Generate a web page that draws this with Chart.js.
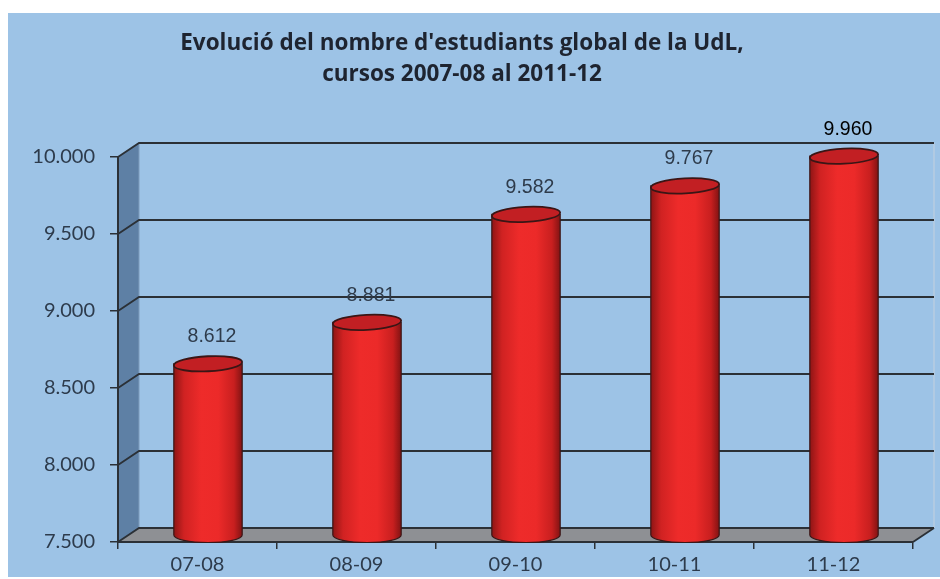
<!DOCTYPE html>
<html>
<head>
<meta charset="utf-8">
<script src="https://cdn.jsdelivr.net/npm/chart.js@4.4.1/dist/chart.umd.min.js"></script>
<style>
  body { margin: 0; background: #fff; }
  #wrap { width: 940px; height: 579px; }
</style>
</head>
<body>
<div id="wrap"><canvas id="studentsChart"></canvas></div>
<script>
// Dades del gràfic
const categories = ['07-08', '08-09', '09-10', '10-11', '11-12'];
const students = [8612, 8881, 9582, 9767, 9960];
const yTicks = [7500, 8000, 8500, 9000, 9500, 10000];
const titleLines = ["Evolució del nombre d'estudiants global de la UdL,", 'cursos 2007-08 al 2011-12'];

// Profunditat de l'efecte 3D
const DX = 21;
const DY = -14;
const LINE = '#2B3036';

// Format amb punt de milers
function fmt(v) {
    return String(v).replace(/\B(?=(\d{3})+(?!\d))/g, '.');
}

// Parets, terra, graella i títol
const threeD = {
    id: 'threeD',
    beforeDraw(chart) {
        const { ctx, chartArea: a, scales: { y } } = chart;
        ctx.save();
        ctx.fillStyle = '#fff';
        ctx.fillRect(0, 0, chart.width, chart.height);
        ctx.fillStyle = '#9DC3E6';
        ctx.fillRect(8, 13, chart.width - 8, chart.height - 15);

        // paret lateral
        ctx.fillStyle = '#5E80A5';
        ctx.beginPath();
        ctx.moveTo(a.left, a.top);
        ctx.lineTo(a.left + DX, a.top + DY);
        ctx.lineTo(a.left + DX, a.bottom + DY);
        ctx.lineTo(a.left, a.bottom);
        ctx.closePath();
        ctx.fill();

        // terra
        ctx.fillStyle = '#8E9094';
        ctx.beginPath();
        ctx.moveTo(a.left, a.bottom);
        ctx.lineTo(a.left + DX, a.bottom + DY);
        ctx.lineTo(a.right + DX, a.bottom + DY);
        ctx.lineTo(a.right, a.bottom);
        ctx.closePath();
        ctx.fill();

        // vores de la paret del fons
        ctx.strokeStyle = '#B9CDE0';
        ctx.lineWidth = 1.5;
        ctx.beginPath();
        ctx.moveTo(a.right + DX, a.top + DY);
        ctx.lineTo(a.right + DX, a.bottom + DY);
        ctx.stroke();
        ctx.strokeStyle = '#7F9CBB';
        ctx.lineWidth = 1;
        ctx.beginPath();
        ctx.moveTo(a.left + DX, a.top + DY);
        ctx.lineTo(a.left + DX, a.bottom + DY);
        ctx.stroke();

        // graella
        ctx.strokeStyle = LINE;
        ctx.lineWidth = 1.8;
        yTicks.forEach(v => {
            const py = y.getPixelForValue(v);
            ctx.beginPath();
            ctx.moveTo(a.left, py);
            ctx.lineTo(a.left + DX, py + DY);
            ctx.lineTo(a.right + DX, py + DY);
            ctx.stroke();
        });
        ctx.beginPath();
        ctx.moveTo(a.right, a.bottom);
        ctx.lineTo(a.right + DX, a.bottom + DY);
        ctx.stroke();

        // títol
        ctx.fillStyle = '#1E2430';
        ctx.font = 'bold 22.5px "Open Sans"';
        ctx.textAlign = 'center';
        ctx.textBaseline = 'middle';
        ctx.fillText(titleLines[0], 462, 44);
        ctx.fillText(titleLines[1], 462, 75);
        ctx.restore();
    },
    afterDatasetsDraw(chart) {
        const { ctx, scales: { y } } = chart;
        const meta = chart.getDatasetMeta(0);
        const floor = y.getPixelForValue(yTicks[0]);
        ctx.save();
        meta.data.forEach((bar, i) => {
            const cx = bar.x + DX / 2;
            const rx = bar.width / 2;
            const ry = 7.5;
            const top = bar.y + DY / 2;
            const bot = floor + DY / 2;

            const g = ctx.createLinearGradient(cx - rx, 0, cx + rx, 0);
            g.addColorStop(0, '#8E1515');
            g.addColorStop(0.15, '#D02222');
            g.addColorStop(0.4, '#EE2B2A');
            g.addColorStop(0.65, '#EC2A29');
            g.addColorStop(0.88, '#C81F1F');
            g.addColorStop(1, '#821313');

            ctx.beginPath();
            ctx.moveTo(cx - rx, top);
            ctx.lineTo(cx - rx, bot);
            ctx.ellipse(cx, bot, rx, ry, 0, Math.PI, 0, true);
            ctx.lineTo(cx + rx, top);
            ctx.closePath();
            ctx.fillStyle = g;
            ctx.fill();
            ctx.strokeStyle = '#3A1616';
            ctx.lineWidth = 1.2;
            ctx.stroke();

            ctx.beginPath();
            ctx.ellipse(cx, top, rx, ry, -0.05, 0, Math.PI * 2);
            ctx.fillStyle = '#C21F23';
            ctx.fill();
            ctx.strokeStyle = '#3A1616';
            ctx.lineWidth = 1.8;
            ctx.stroke();

            // etiqueta de valor
            ctx.fillStyle = i === students.length - 1 ? '#000' : '#2E3B4B';
            ctx.font = '19.5px "Liberation Sans"';
            ctx.textAlign = 'center';
            ctx.textBaseline = 'middle';
            ctx.fillText(fmt(students[i]), cx + 4, top - 27);
        });
        ctx.restore();
    }
};

const ctx = document.getElementById('studentsChart').getContext('2d');
new Chart(ctx, {
    type: 'bar',
    data: {
        labels: categories,
        datasets: [{
            label: 'Estudiants',
            data: students,
            base: yTicks[0],
            backgroundColor: 'rgba(0,0,0,0)',
            borderWidth: 0,
            barPercentage: 0.43,
            categoryPercentage: 1
        }]
    },
    options: {
        responsive: true,
        maintainAspectRatio: false,
        animation: false,
        layout: {
            padding: { top: 157, right: 27, left: 0, bottom: 0 }
        },
        plugins: {
            legend: { display: false },
            tooltip: { enabled: false },
            title: { display: false }
        },
        scales: {
            x: {
                afterFit: s => { s.height = 37; },
                grid: { offset: true, drawOnChartArea: false, tickLength: 7, color: LINE, lineWidth: 1.5 },
                border: { color: LINE, width: 2 },
                ticks: {
                    color: '#2D3B4C',
                    padding: 4,
                    font: { family: 'Lato', size: 20 }
                }
            },
            y: {
                min: 7500,
                max: 10000,
                afterFit: s => { s.width = 118; },
                grid: { drawOnChartArea: false, tickLength: 8, color: LINE, lineWidth: 1.5 },
                border: { color: LINE, width: 2 },
                ticks: {
                    stepSize: 500,
                    color: '#2D3B4C',
                    padding: 15,
                    font: { family: 'Lato', size: 20 },
                    callback: v => fmt(v)
                }
            }
        }
    },
    plugins: [threeD]
});
</script>
</body>
</html>
